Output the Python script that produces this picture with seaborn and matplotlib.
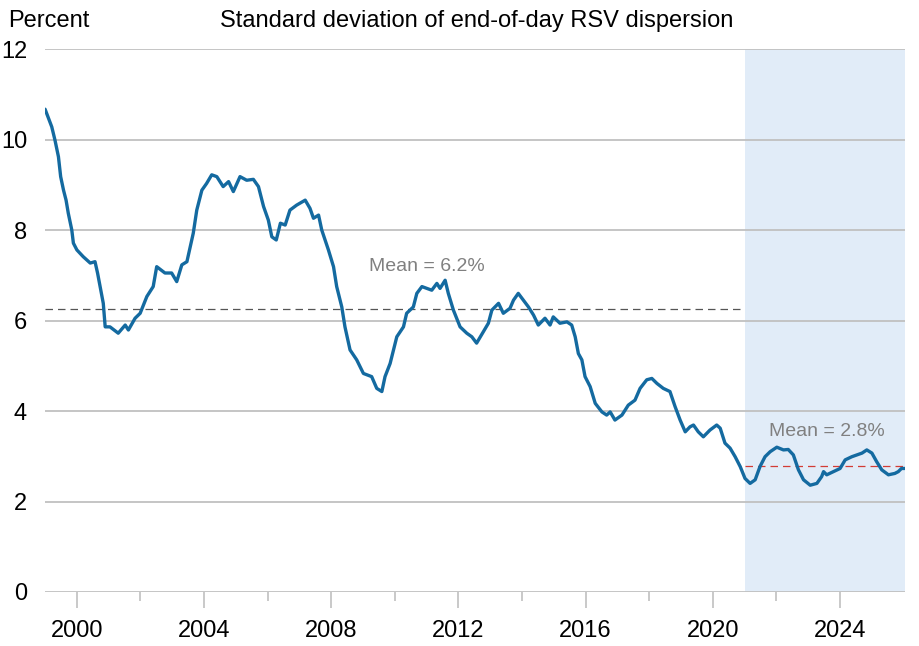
import numpy as np
import pandas as pd
import matplotlib
matplotlib.use("Agg")
import matplotlib.pyplot as plt
import seaborn as sns

# values (year fraction, percent)
years = [
    1999.00, 1999.21, 1999.31, 1999.42, 1999.49, 1999.58, 1999.66, 1999.73, 1999.84, 1999.89,
    2000.00, 2000.20, 2000.42, 2000.57, 2000.65, 2000.73, 2000.83, 2000.89, 2001.04, 2001.30,
    2001.52, 2001.62, 2001.83, 2001.99, 2002.20, 2002.40, 2002.51, 2002.77, 2002.98, 2003.14,
    2003.30, 2003.46, 2003.66, 2003.77, 2003.93, 2004.08, 2004.24, 2004.40, 2004.60, 2004.77,
    2004.92, 2005.13, 2005.34, 2005.55, 2005.71, 2005.87, 2006.02, 2006.13, 2006.27, 2006.40,
    2006.55, 2006.70, 2006.91, 2007.18, 2007.33, 2007.44, 2007.60, 2007.70, 2007.91, 2008.07,
    2008.17, 2008.33, 2008.43, 2008.59, 2008.80, 2009.01, 2009.27, 2009.43, 2009.59, 2009.69,
    2009.85, 2010.06, 2010.27, 2010.37, 2010.58, 2010.69, 2010.85, 2011.16, 2011.32, 2011.42,
    2011.58, 2011.68, 2011.84, 2012.05, 2012.26, 2012.42, 2012.57, 2012.78, 2012.94, 2013.05,
    2013.26, 2013.41, 2013.62, 2013.73, 2013.88, 2014.04, 2014.20, 2014.36, 2014.51, 2014.72,
    2014.88, 2014.98, 2015.19, 2015.41, 2015.56, 2015.67, 2015.77, 2015.88, 2015.98, 2016.14,
    2016.30, 2016.51, 2016.66, 2016.77, 2016.92, 2017.14, 2017.34, 2017.55, 2017.71, 2017.92,
    2018.08, 2018.24, 2018.44, 2018.65, 2018.81, 2018.97, 2019.13, 2019.28, 2019.39, 2019.54,
    2019.70, 2019.91, 2020.12, 2020.23, 2020.38, 2020.54, 2020.70, 2020.86, 2021.01, 2021.17,
    2021.33, 2021.48, 2021.64, 2021.80, 2022.01, 2022.22, 2022.37, 2022.53, 2022.69, 2022.85,
    2023.06, 2023.27, 2023.42, 2023.48, 2023.58, 2023.79, 2024.00, 2024.16, 2024.37, 2024.53,
    2024.69, 2024.84, 2025.00, 2025.15, 2025.31, 2025.52, 2025.72, 2025.83, 2025.93, 2026.03,
]
dispersion = [
    10.67, 10.28, 9.99, 9.62, 9.18, 8.88, 8.66, 8.37, 8.00, 7.71,
    7.56, 7.41, 7.27, 7.30, 7.05, 6.75, 6.38, 5.86, 5.86, 5.72,
    5.90, 5.79, 6.05, 6.16, 6.53, 6.75, 7.19, 7.05, 7.05, 6.86,
    7.23, 7.30, 7.93, 8.44, 8.88, 9.03, 9.22, 9.18, 8.96, 9.07,
    8.85, 9.18, 9.10, 9.12, 8.96, 8.52, 8.22, 7.85, 7.78, 8.15,
    8.11, 8.44, 8.55, 8.66, 8.48, 8.26, 8.33, 8.00, 7.56, 7.19,
    6.75, 6.30, 5.86, 5.35, 5.13, 4.83, 4.76, 4.50, 4.43, 4.76,
    5.05, 5.64, 5.86, 6.16, 6.30, 6.60, 6.75, 6.67, 6.82, 6.71,
    6.89, 6.60, 6.23, 5.86, 5.72, 5.64, 5.50, 5.75, 5.94, 6.23,
    6.38, 6.16, 6.27, 6.45, 6.60, 6.45, 6.30, 6.12, 5.90, 6.05,
    5.90, 6.08, 5.94, 5.97, 5.90, 5.64, 5.27, 5.13, 4.76, 4.54,
    4.17, 3.98, 3.91, 3.98, 3.80, 3.91, 4.13, 4.24, 4.50, 4.69,
    4.72, 4.61, 4.50, 4.43, 4.10, 3.80, 3.54, 3.65, 3.69, 3.54,
    3.43, 3.58, 3.69, 3.62, 3.29, 3.18, 2.99, 2.77, 2.51, 2.40,
    2.48, 2.77, 2.99, 3.10, 3.20, 3.14, 3.15, 3.03, 2.70, 2.48,
    2.36, 2.40, 2.55, 2.66, 2.59, 2.66, 2.73, 2.92, 2.99, 3.03,
    3.07, 3.14, 3.07, 2.88, 2.70, 2.59, 2.62, 2.66, 2.73, 2.73,
]

# means for the two periods
mean_full = 6.25
mean_recent = 2.78
recent_start = 2021.0
x_min, x_max = 1999.0, 2026.05

major_years = [2000, 2004, 2008, 2012, 2016, 2020, 2024]
minor_years = [2002, 2006, 2010, 2014, 2018, 2022]
y_ticks = [0, 2, 4, 6, 8, 10, 12]

df = pd.DataFrame({"year": years, "dispersion": dispersion})

sns.set_style("white")
plt.rcParams["font.family"] = ["Liberation Sans", "DejaVu Sans"]
plt.rcParams["text.color"] = "black"
plt.rcParams["xtick.labelcolor"] = "black"
plt.rcParams["ytick.labelcolor"] = "black"

fig = plt.figure(figsize=(9.2, 6.46), dpi=100)
ax = fig.add_axes([0.049, 0.0836, 0.935, 0.8405])

ax.axvspan(recent_start, x_max, color="#e1ecf8", zorder=-1, lw=0)

sns.lineplot(data=df, x="year", y="dispersion", ax=ax, color="#146aa0",
             linewidth=2.4, zorder=3)

ax.plot([x_min, recent_start], [mean_full, mean_full], color="#555555",
        lw=0.9, dashes=(6, 4), zorder=2)
ax.plot([recent_start, x_max], [mean_recent, mean_recent], color="#d23c35",
        lw=0.9, dashes=(6, 4), zorder=2)

ax.text(2011.0, 7.2, "Mean = 6.2%", color="#808080", fontsize=14,
        ha="center", va="center")
ax.text(2023.6, 3.55, "Mean = 2.8%", color="#808080", fontsize=14,
        ha="center", va="center")

ax.set_xlim(x_min, x_max)
ax.set_ylim(0, 12)
ax.set_yticks(y_ticks)
ax.set_xticks(major_years)
ax.set_xticks(minor_years, minor=True)
ax.set_xticklabels([str(y) for y in major_years])

ax.set_axisbelow(True)
ax.grid(axis="y", color="#c0c0c0", lw=1.3)
ax.grid(axis="x", visible=False)
for s in ax.spines.values():
    s.set_visible(False)

ax.tick_params(axis="y", length=0, pad=13, labelsize=17)
ax.tick_params(axis="x", which="major", length=11.5, width=1.2, color="#c0c0c0",
               pad=9, labelsize=17, bottom=True)
ax.tick_params(axis="x", which="minor", length=6.5, width=1.2, color="#c0c0c0",
               bottom=True)
ax.set_xlabel("")
ax.set_ylabel("")

fig.text(0.009, 0.968, "Percent", fontsize=17, ha="left", va="center")
fig.text(0.518, 0.968, "Standard deviation of end-of-day RSV dispersion",
         fontsize=17, ha="center", va="center")

fig.savefig("out.png", dpi=100)
